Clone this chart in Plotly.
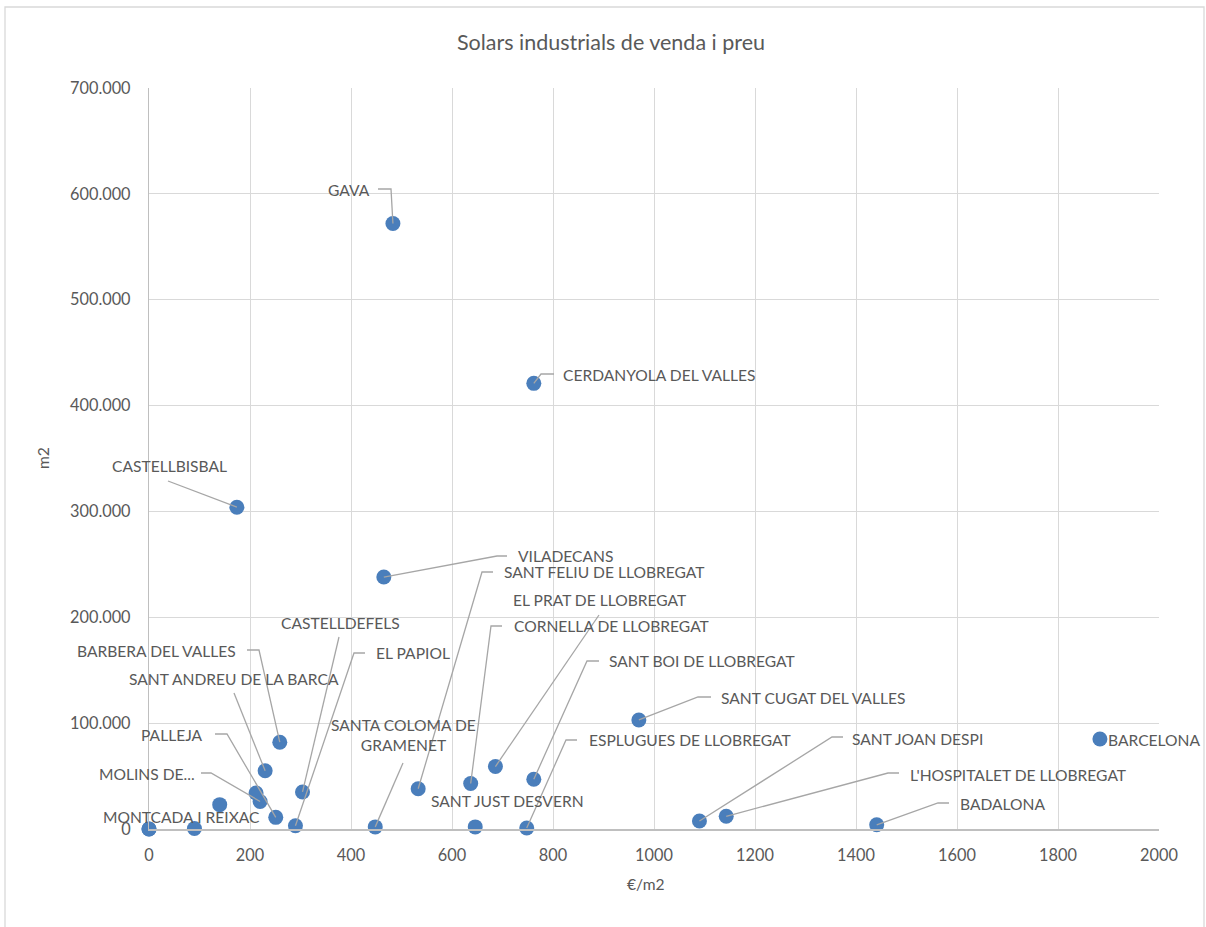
import plotly.graph_objects as go

# ---------------- data ----------------
names = ["GAVA", "CERDANYOLA DEL VALLES", "CASTELLBISBAL", "VILADECANS",
         "BARBERA DEL VALLES", "SANT ANDREU DE LA BARCA", "MOLINS DE...", "PALLEJA",
         "CASTELLDEFELS", "EL PAPIOL", "SANTA COLOMA DE<br>GRAMENET", "SANT FELIU DE LLOBREGAT",
         "CORNELLA DE LLOBREGAT", "EL PRAT DE LLOBREGAT", "SANT BOI DE LLOBREGAT",
         "SANT JUST DESVERN", "ESPLUGUES DE LLOBREGAT", "SANT CUGAT DEL VALLES",
         "SANT JOAN DESPI", "L'HOSPITALET DE LLOBREGAT", "BADALONA", "BARCELONA",
         "MONTCADA I REIXAC", "", "", "", ""]
price_m2 = [483, 762, 174, 465, 259, 230, 220, 251, 304, 290, 448, 533, 637, 686, 762,
            646, 748, 970, 1090, 1143, 1441, 1883, 90, 212, 140, 0, 0]
area_m2 = [572000, 421000, 304000, 238000, 82000, 55000, 26000, 11000, 35000, 3000, 2000,
           38000, 43000, 59000, 47000, 2000, 1000, 103000, 7500, 12000, 4000, 85000,
           500, 34000, 23000, 0, 0]

x_ticks = [0, 200, 400, 600, 800, 1000, 1200, 1400, 1600, 1800, 2000]
y_ticks = [0, 100000, 200000, 300000, 400000, 500000, 600000, 700000]

title_text = "Solars industrials de venda i preu"
x_title = "€/m2"
y_title = "m2"

# ---------------- label layout (screen pixels of the reference) ----------------
W, H = 1206, 927
L, R, T, B = 149, 1159, 88, 829
XR = (0, 2000)
YR = (0, 700000)

def px2x(px):
    return XR[0] + (px - L) * (XR[1] - XR[0]) / (R - L)

def py2y(py):
    return YR[0] + (B - py) * (YR[1] - YR[0]) / (B - T)

# name -> (xanchor, text x px, text y px, leader vertices px (from label side towards point))
label_layout = {
    "GAVA": ("right", 372, 190, [(378, 189), (391, 189)]),
    "CERDANYOLA DEL VALLES": ("left", 561, 375, [(554, 374), (541, 374)]),
    "CASTELLBISBAL": ("center", 169, 466, [(168, 481)]),
    "VILADECANS": ("left", 516, 556, [(507, 556), (497, 556)]),
    "SANT FELIU DE LLOBREGAT": ("left", 502, 572, [(493, 572), (482, 572)]),
    "EL PRAT DE LLOBREGAT": ("center", 599, 600, [(599, 615)]),
    "CORNELLA DE LLOBREGAT": ("left", 512, 626, [(502, 626), (491, 626)]),
    "SANT BOI DE LLOBREGAT": ("left", 607, 661, [(599, 661), (587, 661)]),
    "SANT CUGAT DEL VALLES": ("left", 719, 698, [(711, 697), (698, 697)]),
    "ESPLUGUES DE LLOBREGAT": ("left", 587, 740, [(577, 740), (566, 740)]),
    "SANT JOAN DESPI": ("left", 850, 739, [(843, 737), (832, 737)]),
    "L'HOSPITALET DE LLOBREGAT": ("left", 908, 775, [(899, 773), (888, 773)]),
    "BADALONA": ("left", 958, 804, [(949, 803), (938, 803)]),
    "BARCELONA": ("left", 1106, 740, []),
    "SANT JUST DESVERN": ("left", 429, 801, []),
    "SANTA COLOMA DE<br>GRAMENET": ("center", 403, 735, [(403, 763)]),
    "BARBERA DEL VALLES": ("right", 238, 651, [(247, 650), (259, 650)]),
    "SANT ANDREU DE LA BARCA": ("center", 234, 679, [(234, 693)]),
    "CASTELLDEFELS": ("center", 340, 623, [(339, 637)]),
    "EL PAPIOL": ("left", 374, 653, [(365, 653), (354, 653)]),
    "PALLEJA": ("right", 205, 735, [(215, 734), (227, 734)]),
    "MOLINS DE...": ("right", 197, 774, [(201, 773), (211, 773)]),
    "MONTCADA I REIXAC": ("center", 181, 817, []),
}

FONT = "Lato"
TXT = "#595959"
GRID = "#d9d9d9"
AXL = "#bfbfbf"
BLUE = "#4a7ebb"
LEAD = "#a6a6a6"
FS = 15.6
TFS = 16.3

fig = go.Figure()

fig.add_trace(go.Scatter(
    x=price_m2, y=area_m2, mode="markers",
    marker=dict(size=15, color=BLUE, line=dict(width=0)),
    hovertext=names, showlegend=False, cliponaxis=False,
))

lx, ly = [], []
annotations = []
for n, xv, yv in zip(names, price_m2, area_m2):
    if n not in label_layout:
        continue
    anchor, tx, ty, verts = label_layout[n]
    annotations.append(dict(
        x=px2x(tx), y=py2y(ty), xref="x", yref="y", text=n, showarrow=False,
        xanchor=anchor, yanchor="middle", align="center",
        font=dict(family=FONT, size=FS, color=TXT),
    ))
    if verts:
        for vx, vy in verts:
            lx.append(px2x(vx)); ly.append(py2y(vy))
        lx.append(xv); ly.append(yv)
        lx.append(None); ly.append(None)

fig.add_trace(go.Scatter(
    x=lx, y=ly, mode="lines", line=dict(color=LEAD, width=1.3),
    hoverinfo="skip", showlegend=False, cliponaxis=False,
))

# axis titles
annotations.append(dict(
    x=(646 - L) / (R - L), y=(B - 884) / (B - T), xref="paper", yref="paper",
    text=x_title, showarrow=False, xanchor="center", yanchor="middle",
    font=dict(family=FONT, size=FS, color=TXT)))
annotations.append(dict(
    x=(43 - L) / (R - L), y=(B - 458) / (B - T), xref="paper", yref="paper",
    text=y_title, showarrow=False, xanchor="center", yanchor="middle", textangle=-90,
    font=dict(family=FONT, size=FS, color=TXT)))

# chart border
shapes = [dict(type="rect", xref="paper", yref="paper",
               x0=(5 - L) / (R - L), x1=(1204 - L) / (R - L),
               y0=(B - 940) / (B - T), y1=(B - 7) / (B - T),
               line=dict(color=GRID, width=1.3), fillcolor="rgba(0,0,0,0)", layer="below")]

fig.update_layout(
    width=W, height=H,
    margin=dict(l=L, r=W - R, t=T, b=H - B),
    paper_bgcolor="white", plot_bgcolor="white",
    separators=",.",
    font=dict(family=FONT, size=FS, color=TXT),
    title=dict(text=title_text, x=611 / W, y=1 - 42 / H, xanchor="center", yanchor="middle",
               font=dict(family=FONT, size=21.5, color=TXT)),
    annotations=annotations,
    shapes=shapes,
    xaxis=dict(range=list(XR), tickvals=x_ticks, showgrid=True, gridcolor=GRID, gridwidth=1.3,
               zeroline=False, showline=True, linecolor=AXL, linewidth=1.5, mirror=False,
               ticks="outside", ticklen=11, tickcolor="rgba(0,0,0,0)",
               tickfont=dict(family=FONT, size=TFS, color=TXT)),
    yaxis=dict(range=list(YR), tickvals=y_ticks, tickformat=",d", showgrid=True, gridcolor=GRID,
               gridwidth=1.3, zeroline=False, showline=True, linecolor=AXL, linewidth=1.3,
               ticks="outside", ticklen=14, tickcolor="rgba(0,0,0,0)",
               tickfont=dict(family=FONT, size=TFS, color=TXT)),
)

fig.write_html("out.html")
